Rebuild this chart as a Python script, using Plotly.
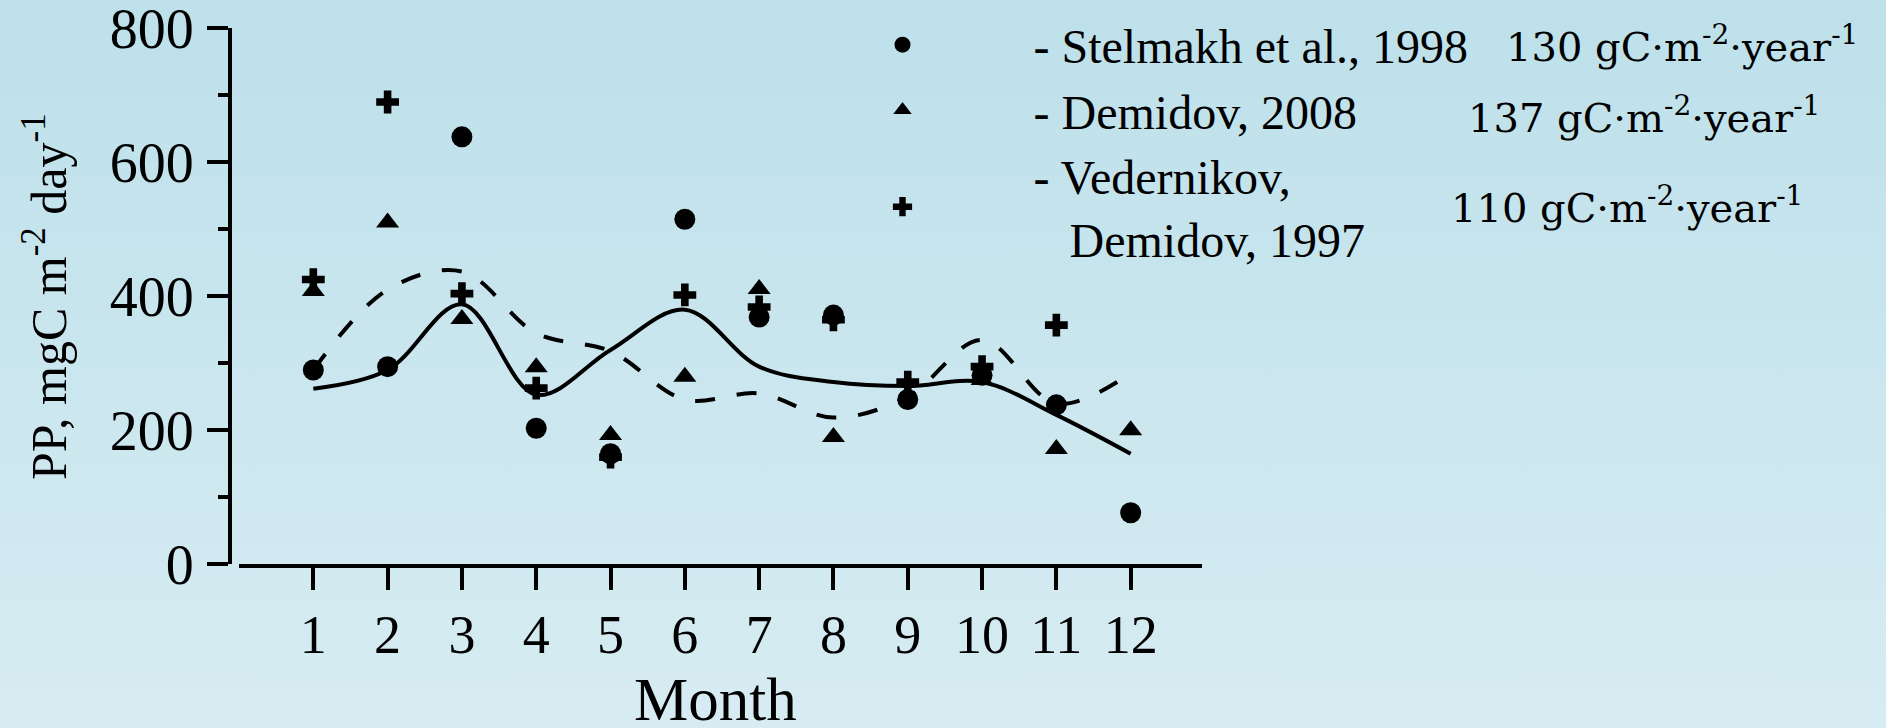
import base64
import plotly.graph_objects as go

# ---- data -----------------------------------------------------------------
months = list(range(1, 13))

# Primary production, mgC m-2 day-1, by month
stelmakh_1998 = [290, 295, 638, 203, 165, 515, 369, 372, 246, 282, 238, 77]
demidov_2008 = [408, 510, 366, 294, 193, 280, 411, 190, None, 275, 172, 200]
vedernikov_demidov_1997 = [425, 690, 404, 263, 160, 402, 384, 365, 272, 295, 357, None]

# Smoothed seasonal curves
solid_curve = [262, 290, 388, 253, 320, 380, 295, 272, 266, 272, 223, 165]
dashed_curve = [290, 410, 437, 345, 318, 246, 255, 219, 250, 335, 240, 285]

series_names = [
    "- Stelmakh et al., 1998",
    "- Demidov, 2008",
    "- Vedernikov,<br>\u00a0\u00a0\u00a0Demidov, 1997",
]
annual_totals = [
    "130 gC·m<sup>-2</sup>·year<sup>-1</sup>",
    "137 gC·m<sup>-2</sup>·year<sup>-1</sup>",
    "110 gC·m<sup>-2</sup>·year<sup>-1</sup>",
]

y_ticks = [0, 200, 400, 600, 800]

# ---- canvas helpers -------------------------------------------------------
W, H = 1886, 728
SERIF = "Liberation Serif, Times New Roman, serif"


def fx(p):
    return p / W


def fy(p):
    return 1 - p / H


fig = go.Figure()

# smoothed curves
fig.add_trace(go.Scatter(
    x=months, y=solid_curve, mode="lines", showlegend=False, hoverinfo="skip",
    line=dict(color="black", width=4, shape="spline", smoothing=1),
))
fig.add_trace(go.Scatter(
    x=months, y=dashed_curve, mode="lines", showlegend=False, hoverinfo="skip",
    line=dict(color="black", width=4, shape="spline", smoothing=1, dash="20px,22px"),
))

# observations
fig.add_trace(go.Scatter(
    x=months, y=vedernikov_demidov_1997, mode="markers", name=series_names[2],
    legendrank=3,
    marker=dict(symbol="cross", size=19, color="black", line=dict(width=0)),
))
fig.add_trace(go.Scatter(
    x=months, y=demidov_2008, mode="markers", name=series_names[1],
    legendrank=2,
    marker=dict(symbol="triangle-up", size=20, color="black", line=dict(width=0)),
))
fig.add_trace(go.Scatter(
    x=months, y=stelmakh_1998, mode="markers", name=series_names[0],
    legendrank=1,
    marker=dict(symbol="circle", size=21, color="black", line=dict(width=0)),
))

# soft vertical background gradient
svg = (
    f'<svg xmlns="http://www.w3.org/2000/svg" width="{W}" height="{H}" '
    f'preserveAspectRatio="none">'
    '<defs><linearGradient id="g" x1="0" y1="0" x2="0" y2="1">'
    '<stop offset="0" stop-color="#bde0ea"/>'
    '<stop offset="1" stop-color="#d7ecf2"/>'
    '</linearGradient></defs>'
    '<rect width="100%" height="100%" fill="url(#g)"/></svg>'
)
bg_src = "data:image/svg+xml;base64," + base64.b64encode(svg.encode()).decode()

annotations = [
    # y-axis title
    dict(text="PP, mgC m<sup>-2</sup> day<sup>-1</sup>", textangle=-90,
         x=fx(45), y=fy(297), xref="paper", yref="paper",
         xanchor="center", yanchor="middle", showarrow=False,
         font=dict(family=SERIF, size=50, color="black")),
    # x-axis title
    dict(text="Month", x=fx(715), y=fy(699), xref="paper", yref="paper",
         xanchor="center", yanchor="middle", showarrow=False,
         font=dict(family=SERIF, size=61, color="black")),
]
for txt, x0, mid in zip(annual_totals, [1504, 1466, 1449], [44, 115, 205]):
    annotations.append(dict(
        text=txt, x=fx(x0), y=fy(mid), xref="paper", yref="paper",
        xanchor="left", yanchor="middle", showarrow=False,
        font=dict(family="DejaVu Serif", size=40, color="black"),
    ))

fig.update_layout(
    width=W, height=H,
    margin=dict(l=0, r=0, t=0, b=0, autoexpand=False),
    paper_bgcolor="#c9e6ee",
    plot_bgcolor="rgba(0,0,0,0)",
    images=[dict(source=bg_src, xref="paper", yref="paper", x=0, y=1,
                 sizex=1, sizey=1, sizing="stretch", xanchor="left",
                 yanchor="top", layer="below")],
    xaxis=dict(
        domain=[fx(239), fx(1202)], range=[0, 12.96], anchor="y",
        tickmode="array", tickvals=months, ticktext=[str(m) for m in months],
        ticks="outside", ticklen=22, tickwidth=4, tickcolor="black",
        showline=True, linewidth=4, linecolor="black",
        showgrid=False, zeroline=False, ticklabelstandoff=-2,
        ticklabeloverflow="allow",
        tickfont=dict(family=SERIF, size=54, color="black"),
    ),
    yaxis=dict(
        domain=[fy(564.3), fy(28.3)], range=[0, 800],
        anchor="free", position=fx(230), side="left",
        tickmode="array", tickvals=y_ticks,
        ticks="outside", ticklen=21, tickwidth=4, tickcolor="black",
        minor=dict(dtick=100, ticks="outside", ticklen=10, tickwidth=4,
                   tickcolor="black", showgrid=False),
        showline=True, linewidth=4, linecolor="black",
        showgrid=False, zeroline=False, ticklabelstandoff=2,
        ticklabeloverflow="allow",
        tickfont=dict(family=SERIF, size=56, color="black"),
    ),
    legend=dict(
        x=fx(771.5), y=fy(7), xanchor="left", yanchor="top",
        bgcolor="rgba(0,0,0,0)", borderwidth=0, itemwidth=252,
        tracegroupgap=0, traceorder="normal",
        font=dict(family=SERIF, size=48, color="black"),
    ),
    annotations=annotations,
    showlegend=True,
)

fig.write_html("out.html")
